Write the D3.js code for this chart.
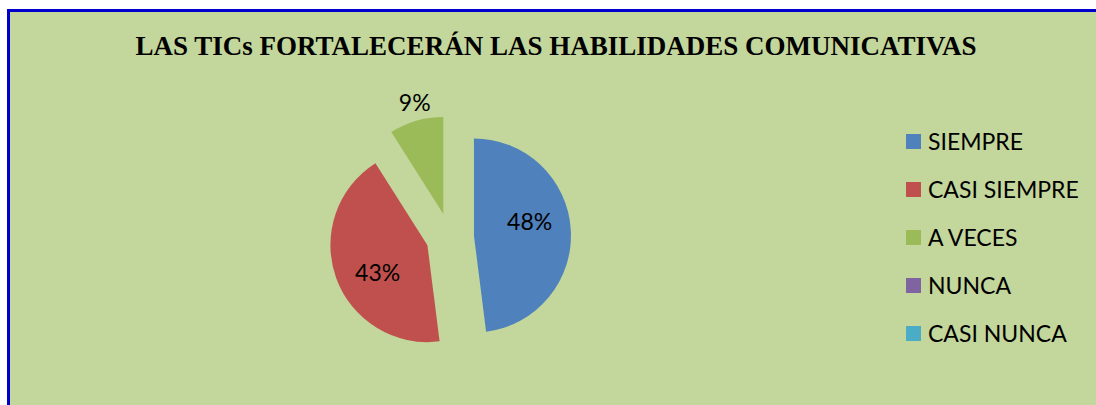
<!DOCTYPE html>
<html>
<head>
<meta charset="utf-8">
<script src="https://cdn.jsdelivr.net/npm/d3@7"></script>
<style>
  body { margin: 0; background: #ffffff; overflow: hidden; }
  svg { display: block; overflow: hidden; }
</style>
</head>
<body>
<script>
// chart data
var categories = ["SIEMPRE", "CASI SIEMPRE", "A VECES", "NUNCA", "CASI NUNCA"];
var values = [48, 43, 9, 0, 0]; // percent
var colors = ["#4f81bd", "#c0504d", "#9bbb59", "#8064a2", "#4bacc6"];
var title = "LAS TICs FORTALECERÁN LAS HABILIDADES COMUNICATIVAS";

var w = 1096, h = 405;

var svg = d3.select("body").append("svg")
    .attr("width", w)
    .attr("height", h);

// chart area with blue frame on top and left only (the rest runs off the picture)
svg.append("rect")
    .attr("x", 10)
    .attr("y", 12)
    .attr("width", w - 10)
    .attr("height", h - 12)
    .attr("fill", "#c3d69b");

svg.append("path")
    .attr("d", "M8.5," + h + "V10.5H" + w)
    .attr("fill", "none")
    .attr("stroke", "#0000cc")
    .attr("stroke-width", 3);

// title
svg.append("text")
    .attr("x", 556)
    .attr("y", 55)
    .attr("text-anchor", "middle")
    .attr("font-family", "Liberation Serif")
    .attr("font-weight", "bold")
    .attr("font-size", "27px")
    .text(title);

// pie
var cx = 450, cy = 237, r = 97, explode = 24;

var pie = d3.pie().sort(null).value(function(d) { return d; });
var arcs = pie(values);
var arc = d3.arc().innerRadius(0).outerRadius(r);

var pieG = svg.append("g")
    .attr("transform", "translate(" + cx + "," + cy + ")");

function mid(d) { return (d.startAngle + d.endAngle) / 2; }

var slices = pieG.selectAll("g.slice")
    .data(arcs)
    .enter()
    .append("g")
    .attr("class", "slice")
    .attr("transform", function(d) { //push every slice out along its middle angle
        var a = mid(d);
        return "translate(" + (explode * Math.sin(a)) + "," + (-explode * Math.cos(a)) + ")";
    });

slices.append("path")
    .attr("d", function(d) { return d.value > 0 ? arc(d) : null; })
    .attr("fill", function(d, i) { return colors[i]; });

// labels: big slices inside, small slice outside
slices.filter(function(d) { return d.value > 0; })
    .append("text")
    .attr("x", function(d) {
        var small = d.value < 15;
        var a = small ? mid(d) + 0.03 : mid(d) - 0.17;
        return (small ? 1.18 : 0.59) * r * Math.sin(a);
    })
    .attr("y", function(d) {
        var small = d.value < 15;
        var a = small ? mid(d) + 0.03 : mid(d) - 0.17;
        return -(small ? 1.18 : 0.59) * r * Math.cos(a);
    })
    .attr("dy", "0.35em")
    .attr("text-anchor", "middle")
    .attr("font-family", "Lato")
    .attr("font-size", "23px")
    .attr("fill", "#000")
    .text(function(d) { return d.value + "%"; });

// legend
var legendY = d3.scalePoint()
    .domain(categories)
    .range([141.5, 333.5]);

var legend = svg.selectAll("g.legend")
    .data(categories)
    .enter()
    .append("g")
    .attr("class", "legend")
    .attr("transform", function(d) { return "translate(906," + legendY(d) + ")"; });

legend.append("rect")
    .attr("x", 0)
    .attr("y", -7.5)
    .attr("width", 15)
    .attr("height", 15)
    .attr("fill", function(d, i) { return colors[i]; });

legend.append("text")
    .attr("x", 22)
    .attr("y", 0)
    .attr("dy", "0.36em")
    .attr("font-family", "Lato")
    .attr("font-size", "23px")
    .attr("fill", "#000")
    .text(function(d) { return d; });
</script>
</body>
</html>
